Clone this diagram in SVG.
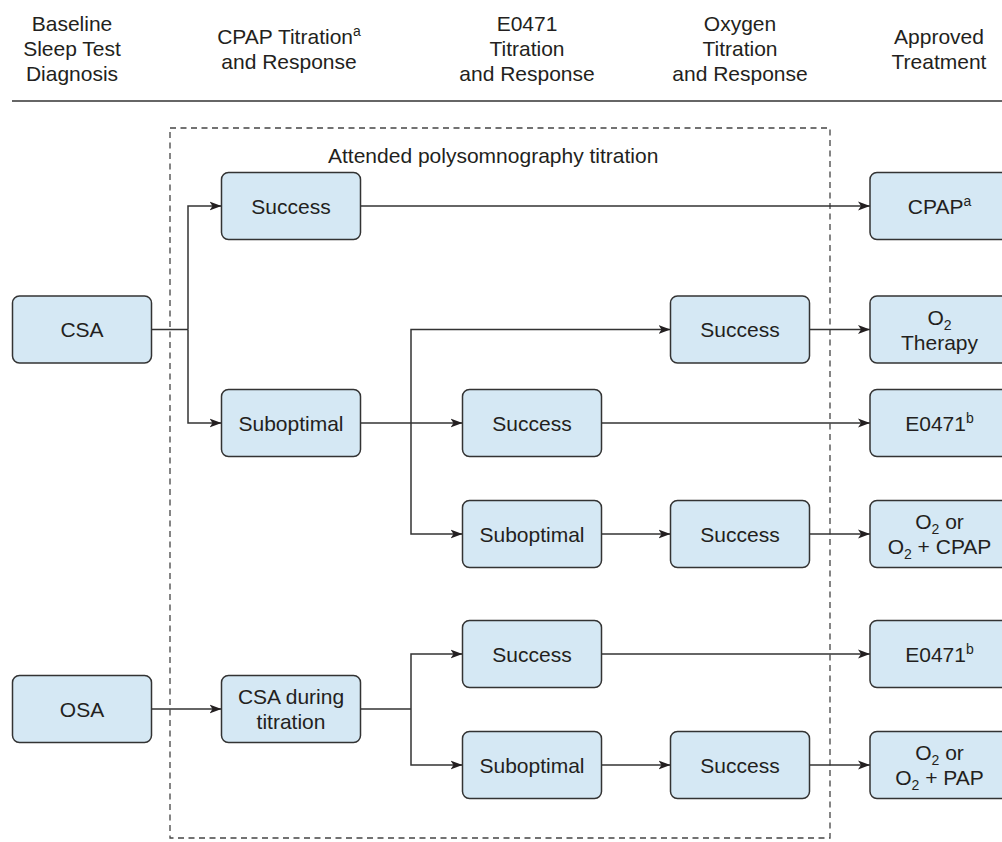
<svg xmlns="http://www.w3.org/2000/svg" width="1002" height="842" viewBox="0 0 1002 842">
<defs>
<style>
.box{fill:#d5e8f4;stroke:#333;stroke-width:1.5}
.t{font-family:"Liberation Sans",Arial,sans-serif;font-size:21px;fill:#231f20;text-anchor:middle}
.sup{font-size:14px}
.ln{fill:none;stroke:#333;stroke-width:1.5}
.arr{marker-end:url(#ah)}
</style>
<marker id="ah" viewBox="0 0 12 10" refX="12" refY="5" markerWidth="12" markerHeight="10" orient="auto" markerUnits="userSpaceOnUse">
<path d="M0,0.5 L12,5 L0,9.5 L3,5 z" fill="#231f20"/>
</marker>
</defs>
<rect width="1002" height="842" fill="#fff"/>

<g id="header">
<text class="t" x="72" y="31">Baseline</text>
<text class="t" x="72" y="56">Sleep Test</text>
<text class="t" x="72" y="81">Diagnosis</text>
<text class="t" x="289" y="43.5">CPAP Titration<tspan class="sup" dy="-8">a</tspan></text>
<text class="t" x="289" y="68.5">and Response</text>
<text class="t" x="527" y="31">E0471</text>
<text class="t" x="527" y="56">Titration</text>
<text class="t" x="527" y="81">and Response</text>
<text class="t" x="740" y="31">Oxygen</text>
<text class="t" x="740" y="56">Titration</text>
<text class="t" x="740" y="81">and Response</text>
<text class="t" x="939" y="43.5">Approved</text>
<text class="t" x="939" y="68.5">Treatment</text>
<line x1="12" y1="101" x2="1002" y2="101" stroke="#333" stroke-width="1.5"/>
</g>

<g id="psg-region">
<rect x="170" y="128" width="660" height="710" fill="none" stroke="#444" stroke-width="1.3" stroke-dasharray="6 4.5"/>
<text class="t" x="328" y="163" style="text-anchor:start">Attended polysomnography titration</text>
</g>

<g id="connectors">
<path class="ln" d="M151.5,329.5 H188"/>
<path class="ln arr" d="M188,329.5 V206 H221.5"/>
<path class="ln arr" d="M188,329.5 V423 H221.5"/>
<path class="ln arr" d="M360.5,206 H870"/>
<path class="ln arr" d="M360.5,423 H462.5"/>
<path class="ln arr" d="M411,423 V329.5 H670.5"/>
<path class="ln arr" d="M411,423 V534 H462.5"/>
<path class="ln arr" d="M601.5,423 H870"/>
<path class="ln arr" d="M809.5,329.5 H870"/>
<path class="ln arr" d="M601.5,534 H670.5"/>
<path class="ln arr" d="M809.5,534 H870"/>
<path class="ln arr" d="M151.5,709 H221.5"/>
<path class="ln" d="M360.5,709 H411"/>
<path class="ln arr" d="M411,709 V654 H462.5"/>
<path class="ln arr" d="M411,709 V765 H462.5"/>
<path class="ln arr" d="M601.5,654 H870"/>
<path class="ln arr" d="M601.5,765 H670.5"/>
<path class="ln arr" d="M809.5,765 H870"/>
</g>

<g id="n-csa"><rect class="box" x="12.5" y="296" width="139" height="67" rx="7"/><text class="t" x="82" y="337">CSA</text></g>
<g id="n-osa"><rect class="box" x="12.5" y="675.5" width="139" height="67" rx="7"/><text class="t" x="82" y="716.5">OSA</text></g>

<g id="n-cpap-success"><rect class="box" x="221.5" y="172.5" width="139" height="67" rx="7"/><text class="t" x="291" y="213.5">Success</text></g>
<g id="n-cpap-subopt"><rect class="box" x="221.5" y="389.5" width="139" height="67" rx="7"/><text class="t" x="291" y="430.5">Suboptimal</text></g>
<g id="n-csa-during"><rect class="box" x="221.5" y="675.5" width="139" height="67" rx="7"/><text class="t" x="291" y="704">CSA during</text><text class="t" x="291" y="729">titration</text></g>

<g id="n-e1-success"><rect class="box" x="462.5" y="389.5" width="139" height="67" rx="7"/><text class="t" x="532" y="430.5">Success</text></g>
<g id="n-e1-subopt"><rect class="box" x="462.5" y="500.5" width="139" height="67" rx="7"/><text class="t" x="532" y="541.5">Suboptimal</text></g>
<g id="n-e2-success"><rect class="box" x="462.5" y="620.5" width="139" height="67" rx="7"/><text class="t" x="532" y="661.5">Success</text></g>
<g id="n-e2-subopt"><rect class="box" x="462.5" y="731.5" width="139" height="67" rx="7"/><text class="t" x="532" y="772.5">Suboptimal</text></g>

<g id="n-o1-success"><rect class="box" x="670.5" y="296" width="139" height="67" rx="7"/><text class="t" x="740" y="337">Success</text></g>
<g id="n-o2-success"><rect class="box" x="670.5" y="500.5" width="139" height="67" rx="7"/><text class="t" x="740" y="541.5">Success</text></g>
<g id="n-o3-success"><rect class="box" x="670.5" y="731.5" width="139" height="67" rx="7"/><text class="t" x="740" y="772.5">Success</text></g>

<g id="n-t-cpap"><rect class="box" x="870" y="172.5" width="139" height="67" rx="7"/><text class="t" x="939.5" y="213.5">CPAP<tspan class="sup" dy="-8">a</tspan></text></g>
<g id="n-t-o2"><rect class="box" x="870" y="296" width="139" height="67" rx="7"/><text class="t" x="939.5" y="325">O<tspan class="sup" dy="5">2</tspan></text><text class="t" x="939.5" y="350">Therapy</text></g>
<g id="n-t-e0471a"><rect class="box" x="870" y="389.5" width="139" height="67" rx="7"/><text class="t" x="939.5" y="430.5">E0471<tspan class="sup" dy="-8">b</tspan></text></g>
<g id="n-t-o2cpap"><rect class="box" x="870" y="500.5" width="139" height="67" rx="7"/><text class="t" x="939.5" y="529">O<tspan class="sup" dy="5">2</tspan><tspan dy="-5"> or</tspan></text><text class="t" x="939.5" y="554">O<tspan class="sup" dy="5">2</tspan><tspan dy="-5"> + CPAP</tspan></text></g>
<g id="n-t-e0471b"><rect class="box" x="870" y="620.5" width="139" height="67" rx="7"/><text class="t" x="939.5" y="661.5">E0471<tspan class="sup" dy="-8">b</tspan></text></g>
<g id="n-t-o2pap"><rect class="box" x="870" y="731.5" width="139" height="67" rx="7"/><text class="t" x="939.5" y="760">O<tspan class="sup" dy="5">2</tspan><tspan dy="-5"> or</tspan></text><text class="t" x="939.5" y="785">O<tspan class="sup" dy="5">2</tspan><tspan dy="-5"> + PAP</tspan></text></g>
</svg>
